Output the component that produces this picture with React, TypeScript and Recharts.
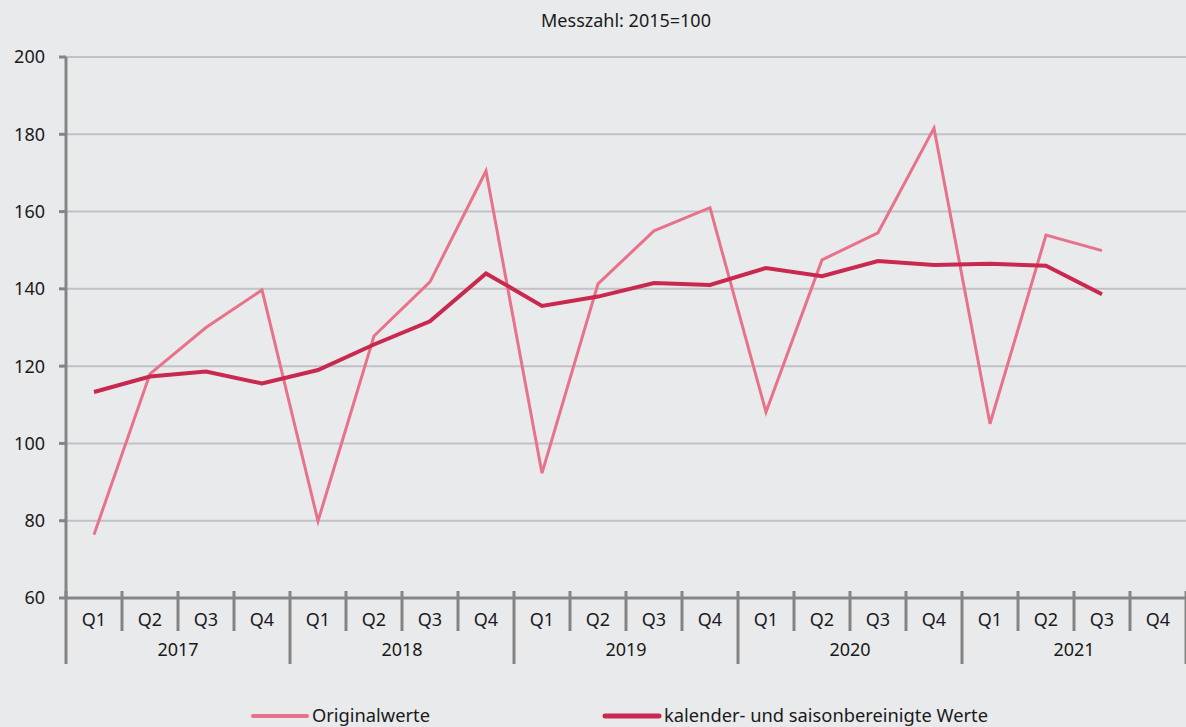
import React from 'react';
import { LineChart, Line, XAxis, YAxis, CartesianGrid, Legend } from 'recharts';

const years = ['2017', '2018', '2019', '2020', '2021'];
const quarters = ['Q1', 'Q2', 'Q3', 'Q4'];
const originalValues = [
  76.4, 118.0, 130.0, 139.7,
  79.9, 127.8, 141.8, 170.5,
  92.3, 141.3, 155.0, 161.0,
  108.1, 147.5, 154.5, 181.6,
  105.1, 153.9, 149.9, null,
];
const adjustedValues = [
  113.3, 117.3, 118.6, 115.5,
  119.0, 125.6, 131.6, 144.0,
  135.6, 138.0, 141.5, 141.0,
  145.4, 143.3, 147.2, 146.2,
  146.5, 146.0, 138.6, null,
];
const yTicks = [60, 80, 100, 120, 140, 160, 180, 200];

const W = 1186;
const H = 727;
const Y_AXIS_W = 66;
const X_AXIS_H = 66;
const LEGEND_H = 63;
const COLOR_ORIG = '#e8728a';
const COLOR_ADJ = '#c9284f';
const AXIS_COLOR = '#858585';
const FONT = '"Noto Sans", "Open Sans", sans-serif';

const data = years.flatMap((yr, yi) =>
  quarters.map((q, qi) => ({
    key: `${yr} ${q}`,
    q,
    year: yr,
    original: originalValues[yi * 4 + qi],
    adjusted: adjustedValues[yi * 4 + qi],
  }))
);

const BAND = (W - Y_AXIS_W) / data.length;

const QuarterTick = (props: any) => {
  const { x, y, index } = props;
  const d = data[index];
  if (!d) return null;
  const left = x - BAND / 2;
  const isYearStart = index % 4 === 0;
  return (
    <g>
      <line x1={left} x2={left} y1={y - 7} y2={isYearStart ? y + 66 : y + 33} stroke={AXIS_COLOR} strokeWidth={3} />
      {index === data.length - 1 && (
        <line x1={x + BAND / 2} x2={x + BAND / 2} y1={y - 7} y2={y + 66} stroke={AXIS_COLOR} strokeWidth={3} />
      )}
      <text x={x} y={y + 28} textAnchor="middle" fontSize={18} fill="#1a1a1a" fontFamily={FONT}>
        {d.q}
      </text>
      {index % 4 === 1 && (
        <text x={x + BAND / 2} y={y + 58} textAnchor="middle" fontSize={18} fill="#1a1a1a" fontFamily={FONT}>
          {d.year}
        </text>
      )}
    </g>
  );
};

const LegendContent = (props: any) => {
  const { payload } = props;
  const items = payload || [];
  const specs: Record<string, { x: number; len: number; w: number }> = {
    original: { x: 253, len: 118, w: 4 },
    adjusted: { x: 605, len: 324, w: 5 },
  };
  return (
    <svg width={W} height={LEGEND_H} style={{ display: 'block' }}>
      {items.map((it: any) => {
        const s = specs[it.dataKey];
        if (!s) return null;
        return (
          <g key={it.dataKey}>
            <line x1={s.x} x2={s.x + 54} y1={52} y2={52} stroke={it.color} strokeWidth={s.w} strokeLinecap="round" />
            <text
              x={s.x + 59}
              y={58}
              fontSize={18}
              fill="#1a1a1a"
              fontFamily={FONT}
              textLength={s.len}
              lengthAdjust="spacingAndGlyphs"
            >
              {it.value}
            </text>
          </g>
        );
      })}
    </svg>
  );
};

export default function App() {
  return (
    <div style={{ position: 'absolute', left: 0, top: 0, width: W, height: H, background: '#e9eaec', fontFamily: FONT }}>
      <div style={{ position: 'absolute', top: 7, left: 0, width: W, textAlign: 'center', fontSize: 18, lineHeight: '26px', color: '#1a1a1a', paddingLeft: 66, boxSizing: 'border-box' }}>
        Messzahl: 2015=100
      </div>
      <LineChart width={W} height={H} data={data} margin={{ top: 57, right: 0, left: 0, bottom: 0 }}>
        <CartesianGrid vertical={false} stroke="#c0c1c6" strokeWidth={2} />
        <XAxis
          dataKey="key"
          interval={0}
          height={X_AXIS_H}
          tickSize={0}
          tickLine={false}
          tickMargin={0}
          padding={{ left: BAND / 2, right: BAND / 2 }}
          axisLine={{ stroke: AXIS_COLOR, strokeWidth: 3 }}
          tick={<QuarterTick />}
        />
        <YAxis
          domain={[60, 200]}
          ticks={yTicks}
          width={Y_AXIS_W}
          tickSize={7}
          tickMargin={14}
          interval={0}
          axisLine={{ stroke: AXIS_COLOR, strokeWidth: 3 }}
          tickLine={{ stroke: AXIS_COLOR, strokeWidth: 3 }}
          tick={{ fill: '#1a1a1a', fontSize: 18, fontFamily: FONT }}
        />
        <Legend verticalAlign="bottom" height={LEGEND_H} content={<LegendContent />} wrapperStyle={{ left: 0, width: W, margin: 0, padding: 0 }} />
        <Line
          type="linear"
          dataKey="original"
          name="Originalwerte"
          stroke={COLOR_ORIG}
          strokeWidth={3}
          dot={false}
          activeDot={false}
          isAnimationActive={false}
        />
        <Line
          type="linear"
          dataKey="adjusted"
          name="kalender- und saisonbereinigte Werte"
          stroke={COLOR_ADJ}
          strokeWidth={4}
          dot={false}
          activeDot={false}
          isAnimationActive={false}
        />
      </LineChart>
    </div>
  );
}
